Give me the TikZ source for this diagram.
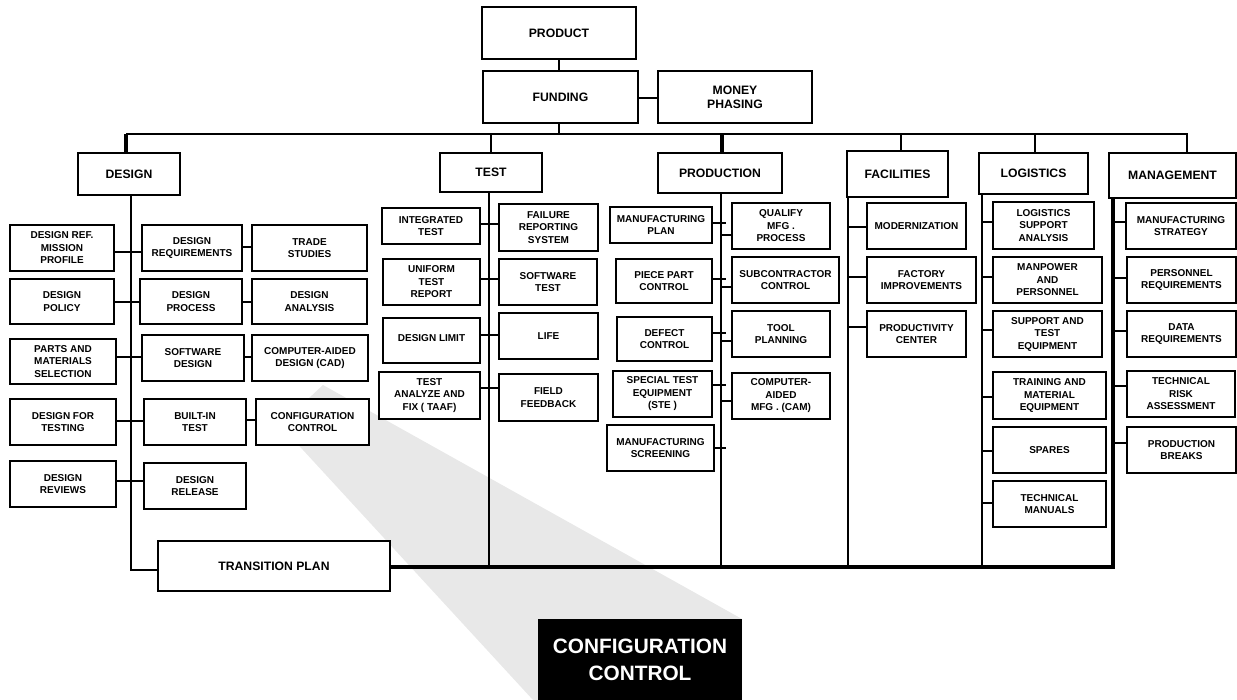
\documentclass[tikz,border=0pt]{standalone}
\usepackage{fontspec}
\setmainfont{Liberation Sans}
\newcommand\smtxt{\fontsize{10}{12.5}\selectfont\bfseries}
\newcommand\bgtxt{\fontsize{12.2}{13.8}\selectfont\bfseries}
\newcommand\cctxt{\fontsize{20.8}{27}\selectfont\bfseries}
% \bx[style]{name}{x1}{y1}{x2}{y2}{text}
\newcommand\bx[7][box]{\node[#1,minimum width={#5-#3},minimum height={#6-#4}] (#2) at ({(#3+#5)/2},{(#4+#6)/2}) {#7};}
\begin{document}
\begin{tikzpicture}[x=1pt,y=-1pt,
  box/.style={draw,line width=1.8pt,fill=white,align=center,inner sep=0pt,font=\smtxt},
  bigbox/.style={box,font=\bgtxt},
  conn/.style={line width=1.8pt},
  thk/.style={line width=3.2pt},
  bus/.style={line width=3.8pt,line join=miter}]
\useasboundingbox (0,0) rectangle (1237,700);
% gray wedge
\fill[black!9] (323,385) -- (742,619) -- (742,700) -- (533,700) -- (280,425) -- cycle;
\node[fill=black,minimum width=204,minimum height=81,inner sep=0pt,text=white,font=\cctxt,align=center] (ccbig) at (640,659.5) {CONFIGURATION\\CONTROL};
% top
\bx[bigbox]{prod}{482}{7}{636}{59}{PRODUCT}
\bx[bigbox]{fund}{483}{71}{638}{123}{FUNDING}
\bx[bigbox]{money}{658}{71}{812}{123}{MONEY\\PHASING}
\bx[bigbox]{design}{78}{153}{180}{195}{DESIGN}
\bx[bigbox]{test}{440}{153}{542}{192}{TEST}
\bx[bigbox]{production}{658}{153}{782}{193}{PRODUCTION}
\bx[bigbox]{facil}{847}{151}{948}{197}{FACILITIES}
\bx[bigbox]{logis}{979}{153}{1088}{194}{LOGISTICS}
\bx[bigbox]{mgmt}{1109}{153}{1236}{198}{MANAGEMENT}
% design column
\bx{dref}{10}{225}{114}{271}{DESIGN REF.\\MISSION\\PROFILE}
\bx{dreq}{142}{225}{242}{271}{DESIGN\\REQUIREMENTS}
\bx{trade}{252}{225}{367}{271}{TRADE\\STUDIES}
\bx{dpol}{10}{279}{114}{324}{DESIGN\\POLICY}
\bx{dproc}{140}{279}{242}{324}{DESIGN\\PROCESS}
\bx{dana}{252}{279}{367}{324}{DESIGN\\ANALYSIS}
\bx{parts}{10}{339}{116}{384}{PARTS AND\\MATERIALS\\SELECTION}
\bx{swd}{142}{335}{244}{381}{SOFTWARE\\DESIGN}
\bx{cad}{252}{335}{368}{381}{COMPUTER-AIDED\\DESIGN (CAD)}
\bx{dft}{10}{399}{116}{445}{DESIGN FOR\\TESTING}
\bx{bit}{144}{399}{246}{445}{BUILT-IN\\TEST}
\bx{cc}{256}{399}{369}{445}{CONFIGURATION\\CONTROL}
\bx{drev}{10}{461}{116}{507}{DESIGN\\REVIEWS}
\bx{drel}{144}{463}{246}{509}{DESIGN\\RELEASE}
\bx[bigbox]{tp}{158}{541}{390}{591}{TRANSITION PLAN}
% test column
\bx{itest}{382}{208}{480}{244}{INTEGRATED\\TEST}
\bx{frs}{499}{204}{598}{251}{FAILURE\\REPORTING\\SYSTEM}
\bx{utr}{383}{259}{480}{305}{UNIFORM\\TEST\\REPORT}
\bx{swt}{499}{259}{597}{305}{SOFTWARE\\TEST}
\bx{dlim}{383}{318}{480}{363}{\raisebox{5pt}{DESIGN LIMIT}}
\bx{life}{499}{313}{598}{359}{LIFE}
\bx{taaf}{379}{372}{480}{419}{TEST\\ANALYZE AND\\FIX ( TAAF)}
\bx{ff}{499}{374}{598}{421}{FIELD\\FEEDBACK}
% production column
\bx{mplan}{610}{207}{712}{243}{MANUFACTURING\\PLAN}
\bx{qmp}{732}{203}{830}{249}{QUALIFY\\MFG .\\PROCESS}
\bx{ppc}{616}{259}{712}{303}{PIECE PART\\CONTROL}
\bx{subc}{732}{257}{839}{303}{SUBCONTRACTOR\\CONTROL}
\bx{dctl}{617}{317}{712}{361}{DEFECT\\CONTROL}
\bx{tool}{732}{311}{830}{357}{TOOL\\PLANNING}
\bx{ste}{613}{371}{712}{417}{SPECIAL TEST\\EQUIPMENT\\(STE )}
\bx{cam}{732}{373}{830}{419}{COMPUTER-\\AIDED\\MFG . (CAM)}
\bx{mscr}{607}{425}{714}{471}{MANUFACTURING\\SCREENING}
% facilities column
\bx{mod}{867}{203}{966}{249}{MODERNIZATION}
\bx{fimp}{867}{257}{976}{303}{FACTORY\\IMPROVEMENTS}
\bx{pc}{867}{311}{966}{357}{PRODUCTIVITY\\CENTER}
% logistics column
\bx{lsa}{993}{202}{1094}{249}{LOGISTICS\\SUPPORT\\ANALYSIS}
\bx{mp}{993}{257}{1102}{303}{MANPOWER\\AND\\PERSONNEL}
\bx{ste2}{993}{311}{1102}{357}{SUPPORT AND\\TEST\\EQUIPMENT}
\bx{tme}{993}{372}{1106}{419}{TRAINING AND\\MATERIAL\\EQUIPMENT}
\bx{spares}{993}{427}{1106}{473}{SPARES}
\bx{tman}{993}{481}{1106}{527}{TECHNICAL\\MANUALS}
% management column
\bx{mstrat}{1126}{203}{1236}{249}{MANUFACTURING\\STRATEGY}
\bx{preq}{1127}{257}{1236}{303}{PERSONNEL\\REQUIREMENTS}
\bx{dreqm}{1127}{311}{1236}{357}{DATA\\REQUIREMENTS}
\bx{tra}{1127}{371}{1235}{417}{TECHNICAL\\RISK\\ASSESSMENT}
\bx{pbreak}{1127}{427}{1236}{473}{PRODUCTION\\BREAKS}
% ---------- connectors ----------
\coordinate (busL) at (126,134);
\coordinate (busR) at (1187,134);
\draw[conn] (prod.south -| 559,0) -- (fund.north -| 559,0);
\draw[conn] (fund.east |- 0,98) -- (money.west |- 0,98);
\draw[conn] (fund.south -| 559,0) -- (busL -| 559,0);
\draw[conn] (busL) -- (busR) -- (mgmt.north -| busR);
\draw[thk] (busL) -- (design.north -| busL);
\draw[conn] (busL -| 491,0) -- (test.north -| 491,0);
\draw[thk] (busL -| 722,0) -- (production.north -| 722,0);
\draw[conn] (busL -| 901,0) -- (facil.north -| 901,0);
\draw[conn] (busL -| 1035,0) -- (logis.north -| 1035,0);
% design
\draw[conn] (design.south -| 131,0) -- (131,570) -- (tp.west |- 0,570);
\draw[conn] (dref.east |- 0,252) -- (dreq.west |- 0,252);
\draw[conn] (dreq.east |- 0,247) -- (trade.west |- 0,247);
\draw[conn] (dpol.east |- 0,302) -- (dproc.west |- 0,302);
\draw[conn] (dproc.east |- 0,302) -- (dana.west |- 0,302);
\draw[conn] (parts.east |- 0,357) -- (swd.west |- 0,357);
\draw[conn] (swd.east |- 0,357) -- (cad.west |- 0,357);
\draw[conn] (dft.east |- 0,421) -- (bit.west |- 0,421);
\draw[conn] (bit.east |- 0,420) -- (cc.west |- 0,420);
\draw[conn] (drev.east |- 0,481) -- (drel.west |- 0,481);
% bottom bus and management spine
\draw[bus] (tp.east |- 0,567) -- (1113,567) -- (mgmt.south -| 1113,0);
% test
\draw[conn] (test.south -| 489,0) -- (489,567);
\draw[conn] (itest.east |- 0,224) -- (frs.west |- 0,224);
\draw[conn] (utr.east |- 0,279) -- (swt.west |- 0,279);
\draw[conn] (dlim.east |- 0,335) -- (life.west |- 0,335);
\draw[conn] (taaf.east |- 0,388) -- (ff.west |- 0,388);
% production
\draw[conn] (production.south -| 721,0) -- (721,567);
\draw[conn] (mplan.east |- 0,223) -- ++(13,0);
\draw[conn] (ppc.east |- 0,279) -- ++(13,0);
\draw[conn] (dctl.east |- 0,333) -- ++(13,0);
\draw[conn] (ste.east |- 0,385) -- ++(13,0);
\draw[conn] (mscr.east |- 0,448) -- ++(11,0);
\draw[conn] (qmp.west |- 0,235) -- ++(-11,0);
\draw[conn] (subc.west |- 0,287) -- ++(-11,0);
\draw[conn] (tool.west |- 0,341) -- ++(-11,0);
\draw[conn] (cam.west |- 0,401) -- ++(-11,0);
% facilities
\draw[conn] (facil.south -| 848,0) -- (848,567);
\draw[conn] (mod.west |- 0,227) -- ++(-19,0);
\draw[conn] (fimp.west |- 0,277) -- ++(-19,0);
\draw[conn] (pc.west |- 0,327) -- ++(-19,0);
% logistics
\draw[conn] (logis.south -| 982,0) -- (982,567);
\draw[conn] (lsa.west |- 0,222) -- ++(-11,0);
\draw[conn] (mp.west |- 0,277) -- ++(-11,0);
\draw[conn] (ste2.west |- 0,330) -- ++(-11,0);
\draw[conn] (tme.west |- 0,397) -- ++(-11,0);
\draw[conn] (spares.west |- 0,451) -- ++(-11,0);
\draw[conn] (tman.west |- 0,503) -- ++(-11,0);
% management
\draw[conn] (mstrat.west |- 0,222) -- ++(-13,0);
\draw[conn] (preq.west |- 0,278) -- ++(-14,0);
\draw[conn] (dreqm.west |- 0,331) -- ++(-14,0);
\draw[conn] (tra.west |- 0,386) -- ++(-14,0);
\draw[conn] (pbreak.west |- 0,443) -- ++(-14,0);
\end{tikzpicture}
\end{document}
